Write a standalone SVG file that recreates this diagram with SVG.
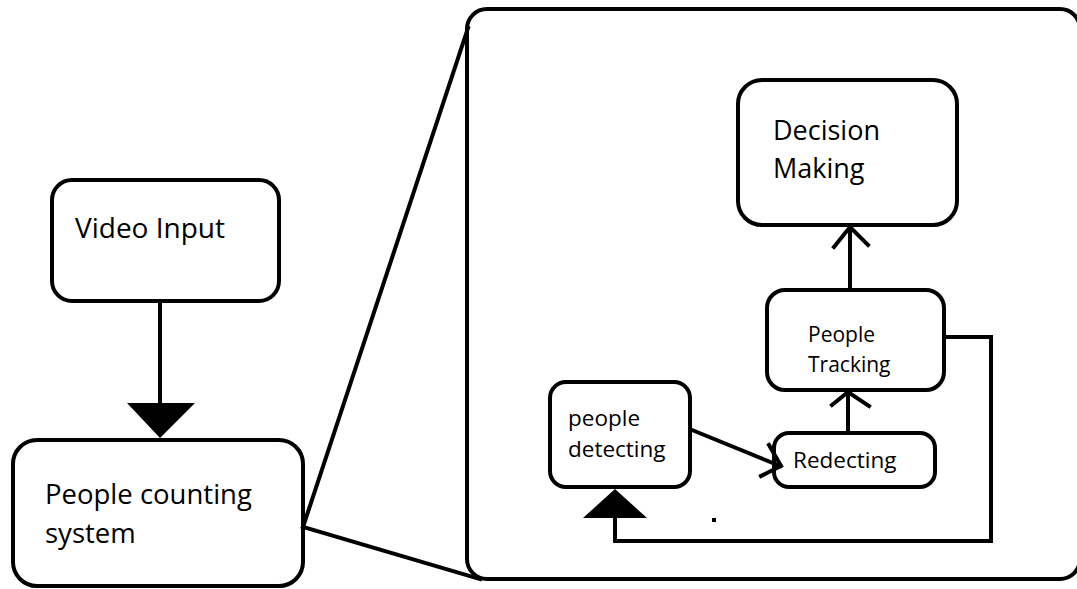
<svg xmlns="http://www.w3.org/2000/svg" width="1077" height="589" viewBox="0 0 1077 589">
  <style>
    .box { fill: #ffffff; stroke: #000; stroke-width: 4; }
    .line { fill: none; stroke: #000; stroke-width: 4; stroke-linecap: square; }
    .head { fill: #000; stroke: none; }
    .label { font-family: "Open Sans", "Noto Sans", sans-serif; fill: #000; }
  </style>
  <rect width="1077" height="589" fill="#ffffff"/>

  <!-- expanded view frame -->
  <g id="detail-frame">
    <rect class="box" x="467" y="9" width="613" height="570" rx="20" ry="20"/>
  </g>

  <g id="video-input">
    <rect class="box" x="52" y="180" width="227" height="121" rx="20" ry="20"/>
    <text class="label" x="75" y="238" font-size="28">Video Input</text>
  </g>

  <g id="people-counting-system">
    <rect class="box" x="13" y="440" width="290" height="146" rx="24" ry="24"/>
    <text class="label" x="45" y="504" font-size="27.5">People counting</text>
    <text class="label" x="45" y="543" font-size="27.5">system</text>
  </g>

  <g id="decision-making">
    <rect class="box" x="738" y="80" width="219" height="145" rx="24" ry="24"/>
    <text class="label" x="773" y="140" font-size="27">Decision</text>
    <text class="label" x="773" y="178" font-size="27">Making</text>
  </g>

  <g id="people-tracking">
    <rect class="box" x="767" y="290" width="177" height="100" rx="18" ry="18"/>
    <text class="label" x="808" y="342" font-size="21">People</text>
    <text class="label" x="808" y="372" font-size="21">Tracking</text>
  </g>

  <g id="people-detecting">
    <rect class="box" x="550" y="382" width="140" height="105" rx="16" ry="16"/>
    <text class="label" x="568" y="426" font-size="22.5">people</text>
    <text class="label" x="568" y="457" font-size="22.5">detecting</text>
  </g>

  <g id="redecting">
    <rect class="box" x="774" y="433" width="161" height="54" rx="15" ry="15"/>
    <text class="label" x="793" y="468" font-size="22.5">Redecting</text>
  </g>

  <g id="connectors">
    <!-- zoom lines from the system box to the detail frame -->
    <line class="line" x1="303" y1="527" x2="468" y2="28"/>
    <line class="line" x1="303" y1="527" x2="480" y2="579"/>

    <!-- video input to counting system -->
    <line class="line" x1="160" y1="301" x2="160" y2="404"/>
    <polygon class="head" points="127,403 195,403 160,438"/>

    <!-- detecting to redecting -->
    <line class="line" x1="692" y1="430" x2="780" y2="466"/>
    <polyline class="line" points="769,445 781,466 761,476"/>

    <!-- redecting to tracking -->
    <line class="line" x1="848" y1="433" x2="848" y2="392"/>
    <polyline class="line" points="832,405 848,392 869,406"/>

    <!-- tracking to decision making -->
    <line class="line" x1="850" y1="290" x2="850" y2="227"/>
    <polyline class="line" points="834,247 850,227 868,245"/>

    <!-- feedback loop back to detecting -->
    <polyline class="line" style="stroke-linecap:butt" points="945,337 991,337 991,541 615,541 615,517"/>
    <polygon class="head" points="583,518 647,518 615,489"/>
  </g>

  <!-- stray mark -->
  <rect x="712" y="518" width="4" height="4" fill="#000"/>
</svg>
